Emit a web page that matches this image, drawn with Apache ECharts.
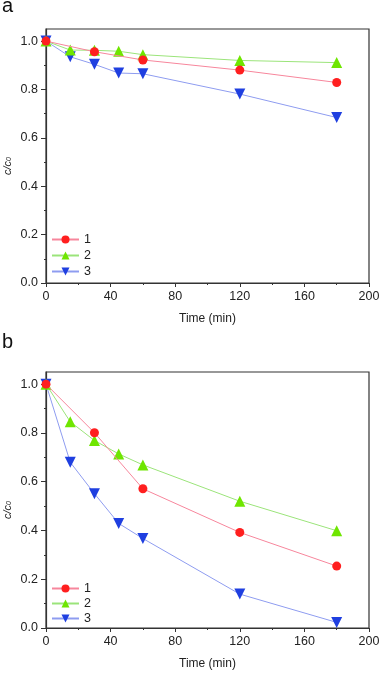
<!DOCTYPE html>
<html>
<head>
<meta charset="utf-8">
<script src="https://cdn.jsdelivr.net/npm/echarts@6/dist/echarts.min.js"></script>
<style>
  html, body { margin: 0; padding: 0; background: #fff; }
  #chart { width: 381px; height: 675px; }
</style>
</head>
<body>
<div id="chart"></div>
<script>
// sampling times (min)
const t1 = [0, 30, 60, 120, 180];
const t23 = [0, 15, 30, 45, 60, 120, 180];

// panel a, c/c0
const a1 = [1.0, 0.956, 0.922, 0.880, 0.829];
const a2 = [1.0, 0.963, 0.962, 0.958, 0.944, 0.920, 0.911];
const a3 = [1.0, 0.935, 0.904, 0.868, 0.865, 0.781, 0.684];

// panel b, c/c0
const b1 = [1.0, 0.801, 0.571, 0.392, 0.254];
const b2 = [1.0, 0.846, 0.769, 0.714, 0.669, 0.520, 0.399];
const b3 = [1.0, 0.680, 0.551, 0.429, 0.367, 0.139, 0.023];

const yMajor = [0, 0.2, 0.4, 0.6, 0.8, 1.0];
const yMinor = [0.1, 0.3, 0.5, 0.7, 0.9];

const chart = echarts.init(document.getElementById("chart"));

const FONT = "Liberation Sans";
const AXIS = "#333";

const pair = (xs, ys) => xs.map((x, i) => [x, ys[i]]);

// styles for the three curves
const styles = [
  { name: "1", symbol: "circle", size: 9, line: "#f7869c", mark: "#ff1f1f" },
  { name: "2", symbol: "triangle", size: 11, line: "#9be47a", mark: "#6fe600" },
  { name: "3", symbol: "path://M0,0 L10,0 L5,9 Z", size: 11, line: "#8e9cf0", mark: "#1f3fe0" },
];

function xAxisFor(g) {
  return {
    type: "value", gridIndex: g, min: 0, max: 200, interval: 40,
    name: "Time (min)", nameLocation: "middle", nameGap: 30,
    nameTextStyle: { fontFamily: FONT, fontSize: 12, color: "#222" },
    axisLine: { show: true, lineStyle: { color: AXIS, width: 1.2 } },
    axisTick: { show: true, length: 4, lineStyle: { color: AXIS } },
    minorTick: { show: true, splitNumber: 2, length: 2, lineStyle: { color: AXIS } },
    axisLabel: { fontFamily: FONT, fontSize: 12.5, color: "#222", margin: 7 },
    splitLine: { show: false },
  };
}

function yAxesFor(g) {
  return [
    {
      type: "value", gridIndex: g, position: "left", min: 0, max: 1.05,
      name: "{i|c/c}{s|0}", nameLocation: "middle", nameGap: 33, nameMoveOverlap: false,
      nameTextStyle: {
        padding: [0, 20, 0, 0],
        rich: {
          i: { fontFamily: FONT, fontSize: 11, fontStyle: "italic", color: "#222" },
          s: { fontFamily: FONT, fontSize: 7, fontStyle: "italic", color: "#222", padding: [4, 0, 0, 0] },
        },
      },
      axisLine: { show: true, lineStyle: { color: AXIS, width: 1.2 } },
      axisTick: { show: true, length: 5, customValues: yMajor, lineStyle: { color: AXIS } },
      axisLabel: {
        customValues: yMajor, fontFamily: FONT, fontSize: 12.5, color: "#222", margin: 8,
        formatter: (v) => v.toFixed(1),
      },
      splitLine: { show: false },
    },
    {
      type: "value", gridIndex: g, position: "left", min: 0, max: 1.05,
      axisLine: { show: false },
      axisTick: { show: true, length: 2, customValues: yMinor, lineStyle: { color: AXIS } },
      axisLabel: { show: false },
      splitLine: { show: false },
    },
  ];
}

function seriesFor(g, sets) {
  return sets.map((d, k) => ({
    name: styles[k].name,
    type: "line",
    xAxisIndex: g,
    yAxisIndex: g * 2,
    data: d,
    symbol: styles[k].symbol,
    symbolSize: styles[k].size,
    lineStyle: { color: styles[k].line, width: 1 },
    itemStyle: { color: styles[k].mark },
    z: 3 - k,
  }));
}

function legendAt(top, gap) {
  return {
    orient: "vertical", left: 51, top: top, itemWidth: 27, itemHeight: 10, itemGap: gap,
    padding: 0, textStyle: { fontFamily: FONT, fontSize: 12.5, color: "#222" },
    data: ["1", "2", "3"],
  };
}

const option = {
  animation: false,
  title: [
    { text: "a", left: 2, top: -4, padding: 0, textStyle: { fontFamily: FONT, fontSize: 20, fontWeight: "normal", color: "#111" } },
    { text: "b", left: 2, top: 332, padding: 0, textStyle: { fontFamily: FONT, fontSize: 20, fontWeight: "normal", color: "#111" } },
  ],
  grid: [
    { left: 46, right: 12, top: 29, height: 254, show: true, borderColor: AXIS, borderWidth: 1.2, outerBoundsMode: "none" },
    { left: 46, right: 12, top: 372, height: 256, show: true, borderColor: AXIS, borderWidth: 1.2, outerBoundsMode: "none" },
  ],
  legend: [legendAt(233, 3), legendAt(582, 2)],
  xAxis: [xAxisFor(0), xAxisFor(1)],
  yAxis: [...yAxesFor(0), ...yAxesFor(1)],
  series: [
    ...seriesFor(0, [pair(t1, a1), pair(t23, a2), pair(t23, a3)]),
    ...seriesFor(1, [pair(t1, b1), pair(t23, b2), pair(t23, b3)]),
  ],
};

chart.setOption(option);
</script>
</body>
</html>
